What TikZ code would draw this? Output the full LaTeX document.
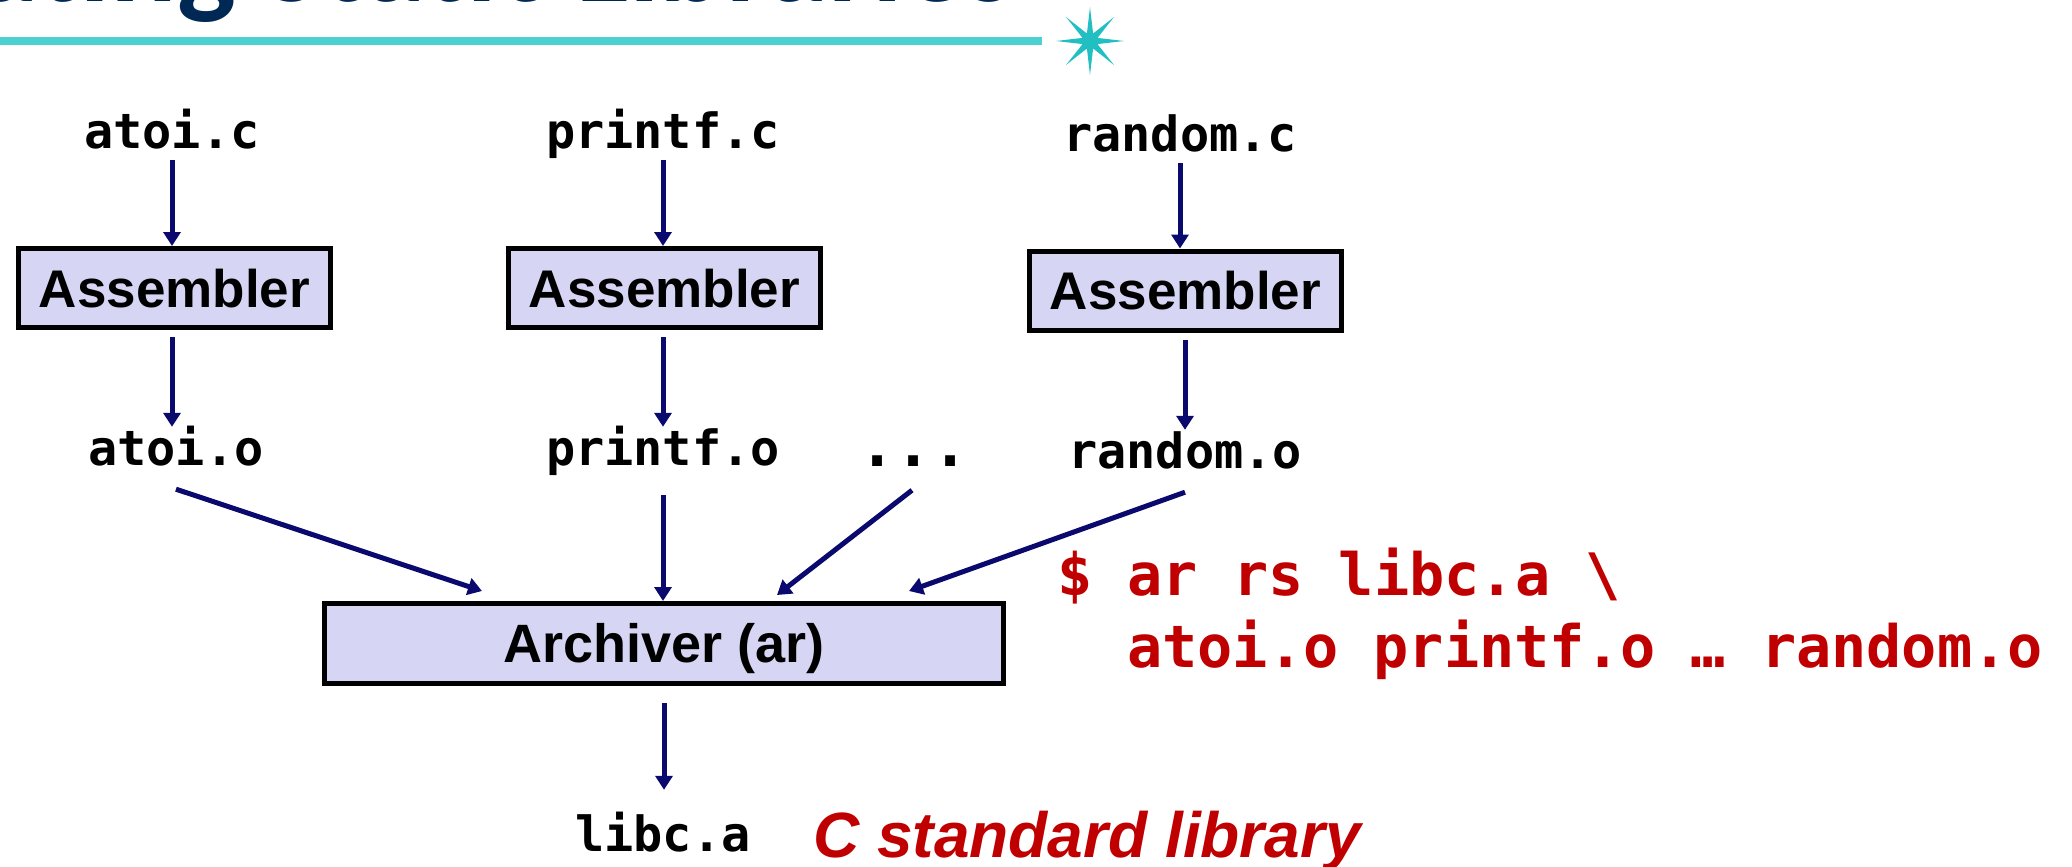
\documentclass[tikz,border=0pt]{standalone}
\usepackage{fontspec}
\setmainfont{Liberation Sans}
\newfontfamily\monof{DejaVu Sans Mono}
\newfontfamily\titlef{Carlito}
\usetikzlibrary{arrows.meta,shapes.geometric}
\definecolor{navy}{RGB}{10,10,110}
\definecolor{boxfill}{RGB}{214,214,244}
\definecolor{redtxt}{RGB}{192,0,0}
\definecolor{titleblue}{RGB}{0,40,85}
\definecolor{linecyan}{RGB}{77,208,208}
\definecolor{starcyan}{RGB}{34,191,194}
\tikzset{
  code/.style={font=\monof\bfseries\fontsize{48.5}{48.5}\selectfont, inner sep=0pt,
    text height=38pt, text depth=12pt, anchor=base},
  redcode/.style={font=\monof\bfseries\fontsize{58.5}{58.5}\selectfont, inner sep=0pt,
    anchor=base west, text=redtxt},
  procbox/.style={draw=black, line width=5pt, fill=boxfill, inner sep=0pt,
    minimum width=312pt, minimum height=79pt, text height=38pt, text depth=0pt,
    font=\bfseries\fontsize{53}{53}\selectfont},
  arr/.style={draw=navy, line width=5pt, -{Triangle[width=17pt,length=14pt]}}
}
\begin{document}
\begin{tikzpicture}[x=1pt,y=-1pt]
\useasboundingbox (0,0) rectangle (2072,867);
\clip (0,0) rectangle (2072,867);
% title remnant
\node[anchor=base west, inner sep=0pt, text=titleblue,
  font=\titlef\bfseries\fontsize{124}{124}\selectfont] (title) at (-193,2) {Creating Static Libraries};
\coordinate (l0) at (0,41);
\coordinate (l1) at (1042,41);
\draw[line width=8pt, draw=linecyan] (l0) -- (l1);
\node[star, star points=8, star point ratio=4.2, minimum size=68pt, inner sep=0pt,
  fill=starcyan] (star) at (1090,41) {};
% sources
\node[code] (s1) at (172,148) {atoi.c};
\node[code] (s2) at (663,148) {printf.c};
\node[code] (s3) at (1180,151) {random.c};
% assemblers
\node[procbox] (a1) at (174.5,288) {Assembler};
\node[procbox] (a2) at (664.5,288) {Assembler};
\node[procbox] (a3) at (1185.5,290.5) {Assembler};
% objects
\node[code] (o1) at (176,465) {atoi.o};
\node[code] (o2) at (663,465) {printf.o};
\node[code, font=\monof\bfseries\fontsize{60}{60}\selectfont] (od) at (914,466) {...};
\node[code] (o3) at (1185,468) {random.o};
% archiver
\node[procbox, minimum width=679pt, minimum height=80pt,
  font=\bfseries\fontsize{54}{54}\selectfont] (ar) at (664,643.5) {Archiver (ar)};
\node[code] (lib) at (663,851) {libc.a};
\node[anchor=base west, inner sep=0pt, text=redtxt,
  font=\bfseries\itshape\fontsize{64}{64}\selectfont] (std) at (813,857) {C standard library};
\node[redcode] (cmd1) at (1057,595) {\$ ar rs libc.a \textbackslash};
\node[redcode] (cmd2) at (1127,667) {atoi.o printf.o … random.o};
% arrows
\draw[arr] (s1.south) -- (s1.south |- a1.north);
\draw[arr] (s2.south) -- (s2.south |- a2.north);
\draw[arr] (s3.south) -- (s3.south |- a3.north);
\draw[arr, shorten <=7pt] (s1.south |- a1.south) -- (s1.south |- o1.north);
\draw[arr, shorten <=7pt] (s2.south |- a2.south) -- (s2.south |- o2.north);
\draw[arr, shorten <=7pt] (o3.south |- a3.south) -- (o3.north);
\coordinate (in1) at ([xshift=160pt,yshift=10pt]ar.north west);
\coordinate (in3) at ([xshift=455pt,yshift=6pt]ar.north west);
\coordinate (in4) at ([xshift=587pt,yshift=10pt]ar.north west);
\draw[arr] ([yshift=-12pt]o1.south) -- (in1);
\draw[arr, shorten <=18pt] (o2.south) -- (o2.south |- ar.north);
\draw[arr] ([xshift=-2pt,yshift=-12pt]od.south) -- (in3);
\draw[arr] ([yshift=-12pt]o3.south) -- (in4);
\draw[arr, shorten <=17pt, shorten >=23pt] (ar.south) -- (ar.south |- lib.north);
\end{tikzpicture}
\end{document}
